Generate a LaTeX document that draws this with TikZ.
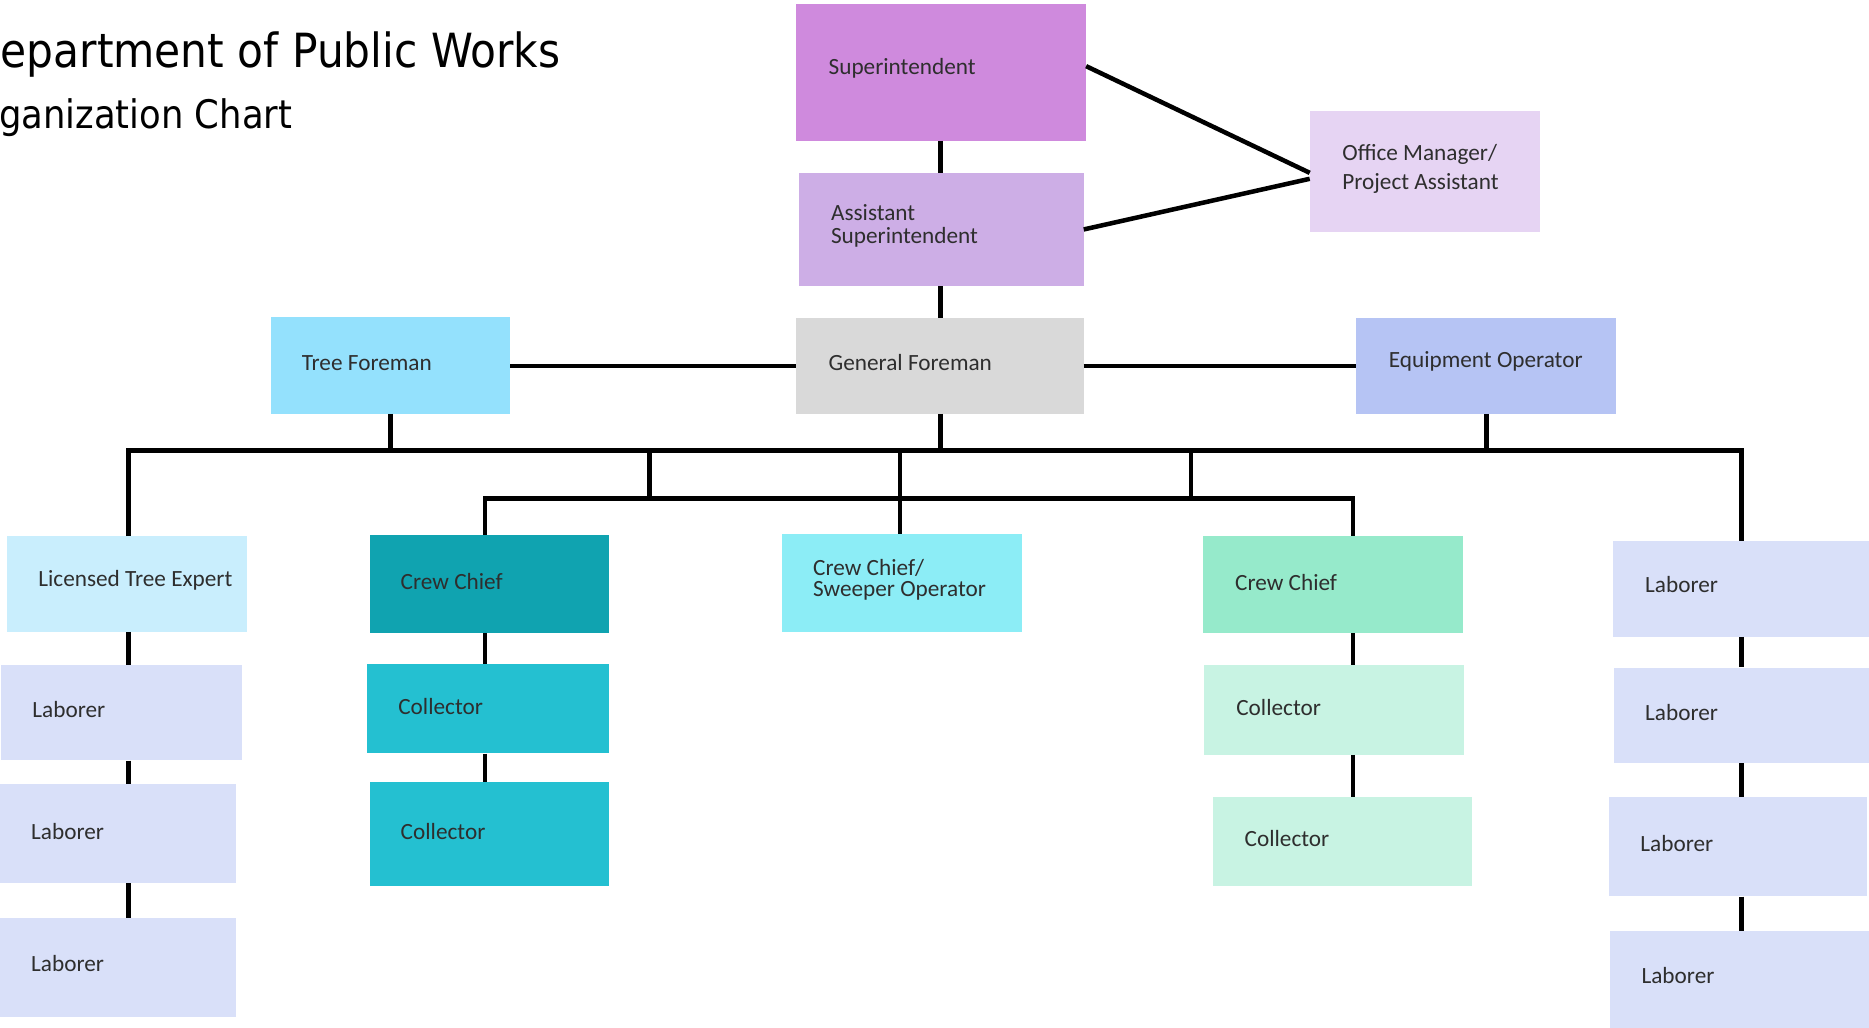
\documentclass[tikz,border=0pt]{standalone}
\usepackage{fontspec}
\setmainfont{Carlito}
\newfontfamily\titlefont[FakeStretch=0.9]{DejaVu Sans}
\usetikzlibrary{fit}
\definecolor{csup}{HTML}{CF8ADD}
\definecolor{casst}{HTML}{CDAEE6}
\definecolor{com}{HTML}{E6D4F3}
\definecolor{ctf}{HTML}{94E1FD}
\definecolor{cgf}{HTML}{D9D9D9}
\definecolor{ceo}{HTML}{B6C4F4}
\definecolor{clte}{HTML}{C9EEFD}
\definecolor{ccca}{HTML}{10A3B0}
\definecolor{ccs}{HTML}{8CEDF6}
\definecolor{cccb}{HTML}{96EACB}
\definecolor{clab}{HTML}{D9E0F9}
\definecolor{ccola}{HTML}{24C0D1}
\definecolor{ccolb}{HTML}{C8F3E3}
\definecolor{txt}{HTML}{2E2E2E}
\begin{document}
\begin{tikzpicture}[x=1pt,y=-1pt,
  box/.style={inner sep=0pt, draw=none},
  lbl/.style={anchor=west, text=txt, font=\fontsize{19.5}{20}\selectfont, inner sep=0pt, align=left, yshift=-1.5pt},
  conn/.style={line width=3.8pt, draw=black},
  ttl/.style={anchor=base west, inner sep=0pt, text=black}]
\useasboundingbox (0,0) rectangle (1568,862);
\clip (0,0) rectangle (1568,862);

% title
\node[ttl, font=\titlefont\fontsize{39.5}{40}\selectfont] (t1) at (-27,57) {Department of Public Works};
\node[ttl, font=\titlefont\fontsize{33}{34}\selectfont] (t2) at (-36,108) {Organization Chart};

% boxes
\node[box, fill=csup,  fit={(668,3) (911,118)}] (sup) {};
\node[box, fill=casst, fit={(670,145) (909,240)}] (asst) {};
\node[box, fill=com,   fit={(1099,93) (1292,195)}] (om) {};
\node[box, fill=ctf,   fit={(227,266) (428,347)}] (tf) {};
\node[box, fill=cgf,   fit={(668,267) (909,347)}] (gf) {};
\node[box, fill=ceo,   fit={(1138,267) (1356,347)}] (eo) {};
\node[box, fill=clte,  fit={(6,450) (207,530)}] (lte) {};
\node[box, fill=ccca,  fit={(310,449) (511,531)}] (cca) {};
\node[box, fill=ccs,   fit={(656,448) (857,530)}] (cs) {};
\node[box, fill=cccb,  fit={(1009,450) (1227,531)}] (ccb) {};
\node[box, fill=clab,  fit={(1353,454) (1574,534)}] (ra) {};
\node[box, fill=clab,  fit={(1,558) (203,638)}] (la) {};
\node[box, fill=clab,  fit={(-3,658) (198,741)}] (lb) {};
\node[box, fill=clab,  fit={(-3,770) (198,853)}] (lc) {};
\node[box, fill=ccola, fit={(308,557) (511,632)}] (ca) {};
\node[box, fill=ccola, fit={(310,656) (511,743)}] (cb) {};
\node[box, fill=ccolb, fit={(1010,558) (1228,633)}] (ga) {};
\node[box, fill=ccolb, fit={(1018,669) (1235,743)}] (gb) {};
\node[box, fill=clab,  fit={(1354,560) (1574,640)}] (rb) {};
\node[box, fill=clab,  fit={(1350,669) (1566,752)}] (rc) {};
\node[box, fill=clab,  fit={(1351,781) (1574,868)}] (rd) {};

% labels
\node[lbl] (sup-t) at (695,56) {Superintendent};
\node[lbl] (asst-t) at (697,188) {Assistant\\Superintendent};
\node[lbl, font=\fontsize{19.5}{24}\selectfont] (om-t) at (1126,140) {Office Manager/\\Project Assistant};
\node[lbl] (tf-t) at (253,303) {Tree Foreman};
\node[lbl] (gf-t) at (695,303) {General Foreman};
\node[lbl] (eo-t) at (1165,302) {Equipment Operator};
\node[lbl] (lte-t) at (32,485) {Licensed Tree Expert};
\node[lbl] (cca-t) at (336,486) {Crew Chief};
\node[lbl, font=\fontsize{19.5}{18}\selectfont] (cs-t) at (682,485) {Crew Chief/\\Sweeper Operator};
\node[lbl] (ccb-t) at (1036,487) {Crew Chief};
\node[lbl] (ra-t) at (1380,489) {Laborer};
\node[lbl] (la-t) at (27,594) {Laborer};
\node[lbl] (lb-t) at (26,696) {Laborer};
\node[lbl] (lc-t) at (26,807) {Laborer};
\node[lbl] (ca-t) at (334,591) {Collector};
\node[lbl] (cb-t) at (336,696) {Collector};
\node[lbl] (ga-t) at (1037,592) {Collector};
\node[lbl] (gb-t) at (1044,702) {Collector};
\node[lbl] (rb-t) at (1380,596) {Laborer};
\node[lbl] (rc-t) at (1376,706) {Laborer};
\node[lbl] (rd-t) at (1377,817) {Laborer};

% guide coordinates
\coordinate (mx) at (789,0);
\coordinate (busa) at (0,378);
\coordinate (busb) at (0,418);
\coordinate (lx) at (108,0);
\coordinate (tx) at (407,0);
\coordinate (gx) at (1135,0);
\coordinate (rx) at (1461,0);
\coordinate (da) at (545,0);
\coordinate (db) at (999,0);
\coordinate (sx) at (755,0);
\coordinate (hy) at (0,307);

% connectors
\draw[conn] (sup.south -| mx) -- (asst.north -| mx);
\draw[conn] (asst.south -| mx) -- (gf.north -| mx);
\draw[conn] ([yshift=5pt]sup.east) -- ([yshift=-1pt]om.west);
\draw[conn] (asst.east) -- ([yshift=-6pt]om.west);
\draw[conn] (tf.east |- hy) -- (gf.west |- hy);
\draw[conn] (gf.east |- hy) -- (eo.west |- hy);
\draw[conn] (tf.south) -- (tf.south |- busa);
\draw[conn] (gf.south -| mx) -- (mx |- busa);
\draw[conn] (eo.south) -- (eo.south |- busa);
\draw[conn] (lte.north -| lx) |- (rx |- busa) -- (ra.north -| rx);
\draw[conn] (da |- busa) -- (da |- busb);
\draw[conn] (db |- busa) -- (db |- busb);
\draw[conn] (sx |- busa) -- (cs.north -| sx);
\draw[conn] (cca.north -| tx) |- (gx |- busb) -- (ccb.north -| gx);

\draw[conn] (lte.south -| lx) -- (la.north -| lx);
\draw[conn] (la.south -| lx) -- (lb.north -| lx);
\draw[conn] (lb.south -| lx) -- (lc.north -| lx);
\draw[conn] (cca.south -| tx) -- (ca.north -| tx);
\draw[conn] (ca.south -| tx) -- (cb.north -| tx);
\draw[conn] (ccb.south -| gx) -- (ga.north -| gx);
\draw[conn] (ga.south -| gx) -- (gb.north -| gx);
\draw[conn] (ra.south -| rx) -- (rb.north -| rx);
\draw[conn] (rb.south -| rx) -- (rc.north -| rx);
\draw[conn] (rc.south -| rx) -- (rd.north -| rx);
\end{tikzpicture}
\end{document}
